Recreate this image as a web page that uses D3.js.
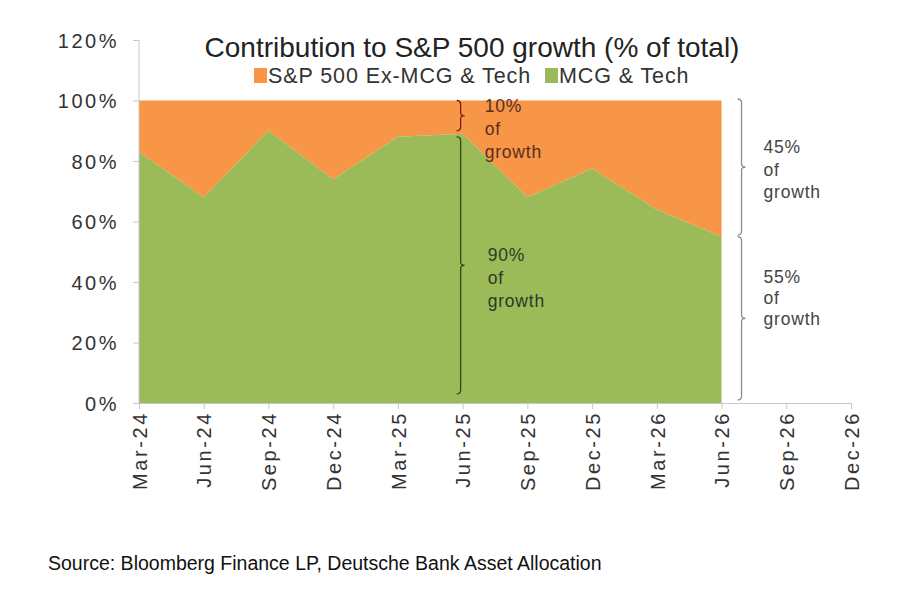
<!DOCTYPE html>
<meta charset="utf-8">
<html>
<head>
    <style>
        body { margin: 0; background: #fff; }
        svg text { font-family: "Liberation Sans", Arial, sans-serif; }
        .axis path, .axis line { stroke: #c8c8c8; }
        .axis text { fill: #333; }
    </style>
    <script src="https://d3js.org/d3.v7.min.js"></script>
</head>
<body>
  <svg width="900" height="590"></svg>
  <script>

      // quarter labels on the x axis
      var quarters = ["Mar-24", "Jun-24", "Sep-24", "Dec-24", "Mar-25", "Jun-25",
                      "Sep-25", "Dec-25", "Mar-26", "Jun-26", "Sep-26", "Dec-26"];
      // MCG & Tech share of growth, % (the rest is S&P 500 ex-MCG & Tech)
      var mcgTech = [83, 68, 90, 74, 88, 89, 68, 77.5, 64, 55];
      var yTicks = [0, 20, 40, 60, 80, 100, 120];

      // bracket notes
      var notes = [
          { from: 100, to: 90, label: ["10%", "of", "growth"], at: "Jun-25" },
          { from: 88, to: 3, label: ["90%", "of", "growth"], at: "Jun-25" },
          { from: 100.5, to: 55.5, label: ["45%", "of", "growth"], at: "Jun-26" },
          { from: 55, to: 1, label: ["55%", "of", "growth"], at: "Jun-26" }
      ];

      var svg = d3.select("svg");
      var plotL = 139, plotR = 851, plotT = 40, plotB = 403;

      var x = d3.scalePoint().domain(quarters).range([plotL, plotR]);
      var y = d3.scaleLinear().domain([0, 120]).range([plotB, plotT]);

      var data = mcgTech.map(function(v, i) { return { q: quarters[i], v: v }; });

      // orange: everything above the green share up to 100%
      svg.append("path")
         .datum(data)
         .attr("fill", "#f79646")
         .attr("d", d3.area()
             .x(function(d) { return x(d.q); })
             .y0(function(d) { return y(d.v); })
             .y1(y(100)));

      svg.append("path")
         .datum(data)
         .attr("fill", "#9bbb59")
         .attr("d", d3.area()
             .x(function(d) { return x(d.q); })
             .y0(y(0))
             .y1(function(d) { return y(d.v); }));

      svg.append("g")
         .attr("class", "axis")
         .attr("transform", "translate(" + plotL + ",0)")
         .call(d3.axisLeft(y).tickValues(yTicks).tickSize(6).tickPadding(14)
             .tickFormat(function(d) { return d + "%"; }))
         .call(function(g) { g.select(".domain").remove(); })
         .selectAll("text")
         .attr("dy", "0.35em")
         .style("font-size", "20px")
         .style("letter-spacing", "2.5px");

      // the left axis line
      svg.append("line")
         .attr("x1", plotL).attr("x2", plotL)
         .attr("y1", y(120)).attr("y2", y(0))
         .attr("stroke", "#c8c8c8");

      svg.append("g")
         .attr("class", "axis")
         .attr("transform", "translate(0," + plotB + ")")
         .call(d3.axisBottom(x).tickSize(6).tickSizeOuter(0))
         .selectAll("text")
         .attr("transform", "rotate(-90)")
         .attr("text-anchor", "end")
         .attr("x", -8)
         .attr("y", 0)
         .attr("dy", "0.36em")
         .style("font-size", "20px")
         .style("letter-spacing", "2.6px");

      // curly braces
      function brace(bx, y0, y1) {
          var ym = (y0 + y1) / 2;
          return "M" + (bx - 4) + "," + y0 + " Q" + bx + "," + y0 + " " + bx + "," + (y0 + 4) +
                 " L" + bx + "," + (ym - 3) + " Q" + bx + "," + ym + " " + (bx + 4) + "," + ym +
                 " Q" + bx + "," + ym + " " + bx + "," + (ym + 3) +
                 " L" + bx + "," + (y1 - 4) + " Q" + bx + "," + y1 + " " + (bx - 4) + "," + y1;
      }

      var braceColor = ["#7a1f1f", "#2f4a1c", "#8c8c8c", "#8c8c8c"];
      var textColor = ["#5a2d20", "#2e3826", "#444", "#444"];
      var braceDx = [-2, -2, 20, 20];
      var textDx = [22, 25, 42, 42];
      var textTop = [112, 261, 153, 283];
      var lineGap = [23, 23, 22.5, 21];

      notes.forEach(function(n, i) {
          svg.append("path")
             .attr("d", brace(x(n.at) + braceDx[i], y(n.from), y(n.to)))
             .attr("fill", "none")
             .attr("stroke", braceColor[i])
             .attr("stroke-width", 1.3);
          n.label.forEach(function(t, j) {
              svg.append("text")
                 .attr("x", x(n.at) + textDx[i])
                 .attr("y", textTop[i] + j * lineGap[i])
                 .attr("fill", textColor[i])
                 .attr("font-size", "17.5px")
                 .attr("letter-spacing", "0.8px")
                 .text(t);
          });
      });

      // title and legend
      svg.append("text")
         .attr("x", 472)
         .attr("y", 57)
         .attr("text-anchor", "middle")
         .attr("font-size", "28px")
         .attr("fill", "#222")
         .text("Contribution to S&P 500 growth (% of total)");

      var legend = [
          { name: "S&P 500 Ex-MCG & Tech", color: "#f79646", x: 254 },
          { name: "MCG & Tech", color: "#9bbb59", x: 545 }
      ];
      legend.forEach(function(l) {
          svg.append("rect")
             .attr("x", l.x).attr("y", 68)
             .attr("width", 13).attr("height", 15)
             .attr("fill", l.color);
          svg.append("text")
             .attr("x", l.x + 14)
             .attr("y", 83)
             .attr("font-size", "21.5px")
             .attr("letter-spacing", "0.9px")
             .attr("fill", "#333")
             .text(l.name);
      });

      svg.append("text")
         .attr("x", 48)
         .attr("y", 570)
         .attr("font-size", "19.5px")
         .attr("fill", "#111")
         .text("Source: Bloomberg Finance LP, Deutsche Bank Asset Allocation");

  </script>
</body>
</html>
